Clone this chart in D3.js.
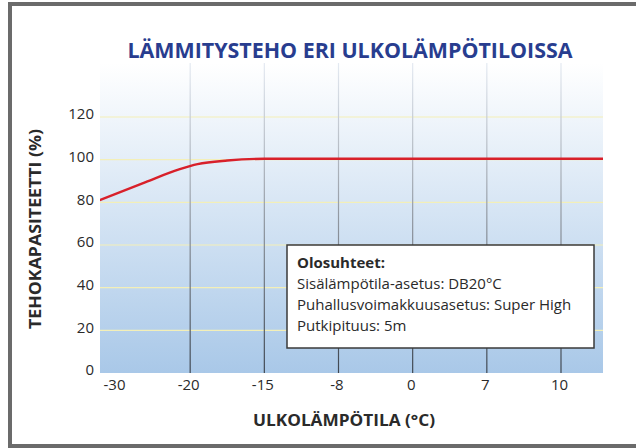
<!DOCTYPE html>
<html>
<head>
	<meta charset="utf-8">
	<title>Lämmitysteho eri ulkolämpötiloissa</title>
	<script src="https://d3js.org/d3.v7.min.js"></script>
	<style>
		body { margin: 0; background: #fff; }
		text { font-family: "Open Sans", "Noto Sans", sans-serif; fill: #2a2a2a; }
	</style>
</head>
<body>
	<svg id="chart" width="636" height="448"></svg>
<script>
	// outdoor temperature categories (equally spaced on the axis)
	var temps = ["-30", "-20", "-15", "-8", "0", "7", "10"];
	var yTicks = [0, 20, 40, 60, 80, 100, 120];
	// capacity curve: position on the category axis (index) and capacity %
	var curveIdx = [-0.22, 0.4, 0.85, 1.1, 1.5, 2.0, 4.0, 6.6];
	var curveVal = [81.0, 89.5, 95.4, 97.9, 99.6, 100.4, 100.4, 100.4];
	var notesTitle = "Olosuhteet:";
	var notes = ["Sisälämpötila-asetus: DB20°C", "Puhallusvoimakkuusasetus: Super High", "Putkipituus: 5m"];

	var svg = d3.select("#chart");
	var plotL = 100, plotR = 603, plotT = 63, plotB = 373;

	var x = d3.scaleLinear().domain([0, temps.length - 1]).range([116, 561]);
	var y = d3.scaleLinear().domain([0, 120]).range([plotB, 117]);

	var defs = svg.append("defs");
	var bg = defs.append("linearGradient").attr("id", "bg")
		.attr("x1", 0).attr("y1", 0).attr("x2", 0).attr("y2", 1);
	bg.append("stop").attr("offset", "0%").attr("stop-color", "#ffffff");
	bg.append("stop").attr("offset", "100%").attr("stop-color", "#a9c8e8");

	var vg = defs.append("linearGradient").attr("id", "vgrid")
		.attr("gradientUnits", "userSpaceOnUse")
		.attr("x1", 0).attr("y1", plotT).attr("x2", 0).attr("y2", plotB);
	vg.append("stop").attr("offset", "0%").attr("stop-color", "#e4eaf2");
	vg.append("stop").attr("offset", "100%").attr("stop-color", "#3e4650");

	defs.append("clipPath").attr("id", "plotclip")
		.append("rect").attr("x", plotL).attr("y", plotT).attr("width", plotR - plotL).attr("height", plotB - plotT);

	// frame
	svg.append("rect")
		.attr("x", 10).attr("y", 4).attr("width", 640).attr("height", 442)
		.attr("fill", "none").attr("stroke", "#6b6b6b").attr("stroke-width", 4);

	// plot background
	svg.append("rect")
		.attr("x", plotL).attr("y", plotT).attr("width", plotR - plotL).attr("height", plotB - plotT)
		.attr("fill", "url(#bg)");

	// horizontal grid
	svg.append("g").selectAll("line")
		.data(yTicks.filter(function (d) { return d > 0; }))
		.enter().append("line")
		.attr("x1", plotL).attr("x2", plotR)
		.attr("y1", function (d) { return y(d); }).attr("y2", function (d) { return y(d); })
		.attr("stroke", "#f3efb8").attr("stroke-width", 1.2);

	// vertical grid (none at -30)
	svg.append("g").selectAll("line")
		.data(d3.range(1, temps.length))
		.enter().append("line")
		.attr("x1", function (d) { return x(d); }).attr("x2", function (d) { return x(d); })
		.attr("y1", plotT).attr("y2", plotB)
		.attr("stroke", "url(#vgrid)").attr("stroke-width", 1.2);

	// capacity line
	var pts = curveIdx.map(function (d, i) { return [d, curveVal[i]]; });
	var line = d3.line()
		.x(function (d) { return x(d[0]); })
		.y(function (d) { return y(d[1]); })
		.curve(d3.curveMonotoneX);
	svg.append("path")
		.datum(pts)
		.attr("clip-path", "url(#plotclip)")
		.attr("d", line)
		.attr("fill", "none")
		.attr("stroke", "#d8202a")
		.attr("stroke-width", 2.4);

	// y axis labels
	var yAxis = d3.axisLeft(y).tickValues(yTicks).tickSize(0).tickPadding(0);
	var gy = svg.append("g").attr("transform", "translate(94,-3)").call(yAxis);
	gy.select(".domain").remove();
	gy.selectAll("text").style("font-size", "15px").style("font-family", null).attr("fill", "#2a2a2a");

	// x axis labels
	var xAxis = d3.axisBottom(x).tickValues(d3.range(temps.length))
		.tickFormat(function (d) { return temps[d]; }).tickSize(0).tickPadding(0);
	var gx = svg.append("g").attr("transform", "translate(-2,379)").call(xAxis);
	gx.select(".domain").remove();
	gx.selectAll("text").style("font-size", "15px").style("font-family", null).attr("fill", "#2a2a2a");

	// title
	svg.append("text")
		.attr("x", 350).attr("y", 58)
		.attr("text-anchor", "middle")
		.style("font-size", "21px").style("font-weight", "bold")
		.style("fill", "#283d8f")
		.attr("textLength", 445).attr("lengthAdjust", "spacingAndGlyphs")
		.text("LÄMMITYSTEHO ERI ULKOLÄMPÖTILOISSA");

	// axis titles
	svg.append("text")
		.attr("x", 344).attr("y", 426)
		.attr("text-anchor", "middle")
		.style("font-size", "16px").style("font-weight", "bold")
		.attr("textLength", 182).attr("lengthAdjust", "spacingAndGlyphs")
		.text("ULKOLÄMPÖTILA (°C)");

	svg.append("text")
		.attr("transform", "translate(41,229) rotate(-90)")
		.attr("text-anchor", "middle")
		.style("font-size", "16px").style("font-weight", "bold")
		.attr("textLength", 200).attr("lengthAdjust", "spacingAndGlyphs")
		.text("TEHOKAPASITEETTI (%)");

	// conditions box
	var box = svg.append("g");
	box.append("rect")
		.attr("x", 287).attr("y", 245).attr("width", 307).attr("height", 103)
		.attr("fill", "#fff").attr("stroke", "#3a3a3a").attr("stroke-width", 1.5);
	box.append("text")
		.attr("x", 297).attr("y", 268)
		.style("font-size", "15px").style("font-weight", "bold")
		.text(notesTitle);
	box.selectAll(".note")
		.data(notes)
		.enter().append("text")
		.attr("class", "note")
		.attr("x", 297)
		.attr("y", function (d, i) { return 289 + i * 21; })
		.style("font-size", "15px")
		.text(function (d) { return d; });
	box.selectAll(".note").each(function () {
		var w = this.getComputedTextLength();
		if (w > 286) d3.select(this).attr("textLength", 286).attr("lengthAdjust", "spacingAndGlyphs");
	});
</script>
</body>
</html>
